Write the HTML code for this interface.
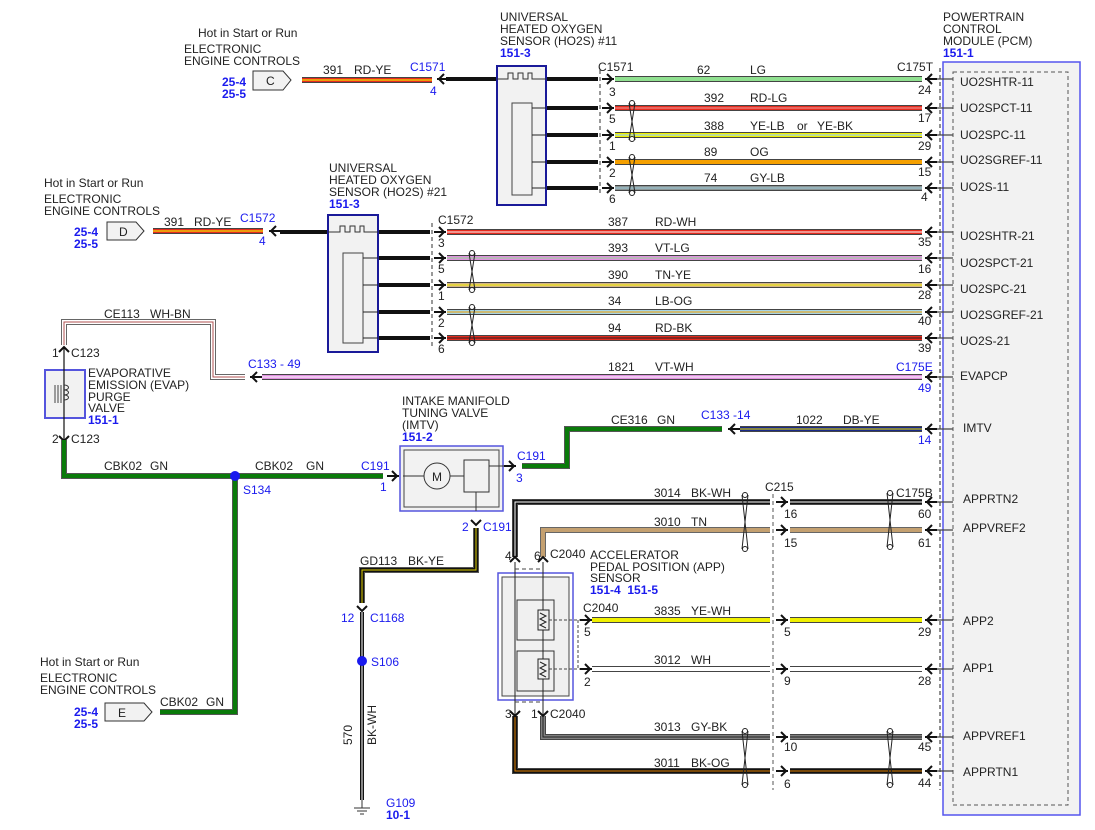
<!DOCTYPE html>
<html><head><meta charset="utf-8"><style>
html,body{margin:0;padding:0;background:#fff}
svg{display:block}
text{font-family:"Liberation Sans",sans-serif;font-size:12px;fill:#222}
.b{fill:#1a1aee}
.bb{fill:#1a1aee;font-weight:bold}
.o{stroke:#444;stroke-width:6;fill:none}
.k{stroke:#111;stroke-width:4;fill:none}
</style></head><body>
<svg width="1095" height="830" viewBox="0 0 1095 830" xmlns="http://www.w3.org/2000/svg">
<defs>
<g id="ar"><path d="M-5,-5 L0,0 L-5,5" stroke="#111" stroke-width="2" fill="none"/><line x1="-10" y1="0" x2="2" y2="0" stroke="#111" stroke-width="2"/></g>
<g id="al"><path d="M5,-5 L0,0 L5,5" stroke="#111" stroke-width="2" fill="none"/><line x1="-2" y1="0" x2="10" y2="0" stroke="#111" stroke-width="2"/></g>
</defs>

<!-- PCM -->
<rect x="943" y="62" width="137" height="753" fill="#f2f2f2" stroke="#5555ee" stroke-width="1.5"/>
<rect x="953" y="72" width="115" height="733" fill="none" stroke="#555" stroke-dasharray="4,3"/>
<line x1="940" y1="68" x2="940" y2="790" stroke="#222" stroke-dasharray="4,3"/>
<g stroke="#444" stroke-width="1.2">
<path d="M930,79H953M930,108H953M930,135H953M930,162H953M930,188H953M930,232H953M930,258H953M930,285H953M930,312H953M930,338H953M930,377H953M930,429H953M930,502H953M930,530H953M930,620H953M930,669H953M930,737H953M930,771H953"/>
</g>
<text x="943" y="21">POWERTRAIN</text><text x="943" y="33">CONTROL</text><text x="943" y="45">MODULE (PCM)</text><text x="943" y="57" class="bb">151-1</text>
<g>
<text x="960" y="86">UO2SHTR-11</text><text x="960" y="112">UO2SPCT-11</text><text x="960" y="139">UO2SPC-11</text><text x="960" y="164">UO2SGREF-11</text><text x="960" y="191">UO2S-11</text>
<text x="960" y="240">UO2SHTR-21</text><text x="960" y="267">UO2SPCT-21</text><text x="960" y="293">UO2SPC-21</text><text x="960" y="319">UO2SGREF-21</text><text x="960" y="345">UO2S-21</text>
<text x="960" y="380">EVAPCP</text><text x="963" y="432">IMTV</text><text x="963" y="503">APPRTN2</text><text x="963" y="532">APPVREF2</text>
<text x="963" y="625">APP2</text><text x="963" y="672">APP1</text><text x="963" y="740">APPVREF1</text><text x="963" y="776">APPRTN1</text>
</g>

<!-- Sensor 11 wires -->
<g>
<path class="o" d="M615,79H922"/><path d="M615,79H922" stroke="#90e090" stroke-width="4"/>
<path class="o" d="M615,108H922"/><path d="M615,108H922" stroke="#e52b1e" stroke-width="4"/><path d="M615,108H922" stroke="#f0a0a0" stroke-width="1"/>
<path class="o" d="M615,135H922"/><path d="M615,135H922" stroke="#f0f000" stroke-width="4"/><path d="M615,135H922" stroke="#9ad0f0" stroke-width="1.2"/>
<path class="o" d="M615,162H922"/><path d="M615,162H922" stroke="#f5a000" stroke-width="4"/>
<path class="o" d="M615,188H922"/><path d="M615,188H922" stroke="#8a9494" stroke-width="4"/><path d="M615,188H922" stroke="#a0d0e0" stroke-width="1"/>
</g>
<g class="k"><path d="M446,79H497"/><path d="M546,79H598"/><path d="M546,108H598"/><path d="M546,135H598"/><path d="M546,162H598"/><path d="M546,188H598"/></g>
<line x1="600" y1="70" x2="600" y2="196" stroke="#333" stroke-dasharray="4,3"/>
<g><use href="#ar" x="612" y="79"/><use href="#ar" x="612" y="108"/><use href="#ar" x="612" y="135"/><use href="#ar" x="612" y="162"/><use href="#ar" x="612" y="188"/></g>
<g class="b"><text x="598" y="71">C1571</text><text x="609" y="96">3</text><text x="609" y="123">5</text><text x="609" y="150">1</text><text x="609" y="177">2</text><text x="609" y="203">6</text></g>
<g><text x="697" y="74">62</text><text x="750" y="74">LG</text><text x="704" y="102">392</text><text x="750" y="102">RD-LG</text>
<text x="704" y="130">388</text><text x="750" y="130">YE-LB</text><text x="797" y="130">or</text><text x="817" y="130">YE-BK</text>
<text x="704" y="156">89</text><text x="750" y="156">OG</text><text x="704" y="182">74</text><text x="750" y="182">GY-LB</text></g>
<rect x="497" y="66" width="49" height="139" fill="#f2f2f2" stroke="#1a1a99" stroke-width="2"/>
<rect x="512" y="103" width="20" height="92" fill="#f2f2f2" stroke="#444"/>
<path d="M497,79H508V73H513V79H518V73H523V79H528V73H532V79H546" stroke="#333" fill="none"/>
<g stroke="#222" fill="none"><path d="M532,108H546M532,135H546M532,162H546M532,188H546"/></g>
<text x="500" y="21">UNIVERSAL</text><text x="500" y="33">HEATED OXYGEN</text><text x="500" y="45">SENSOR (HO2S) #11</text><text x="500" y="57" class="bb">151-3</text>
<g stroke="#222" fill="none"><path d="M629,103L635,140M635,103L629,140"/><circle cx="632" cy="103" r="2.5" fill="#fff"/><circle cx="632" cy="139" r="2.5" fill="#fff"/>
<path d="M629,157L635,193M635,157L629,193"/><circle cx="632" cy="157" r="2.5" fill="#fff"/><circle cx="632" cy="193" r="2.5" fill="#fff"/></g>

<!-- C connector top -->
<path d="M253,71H283L291,80L283,90H253Z" fill="#f2f2f2" stroke="#333"/><text x="266" y="85">C</text>
<path class="o" d="M302,80H432"/><path d="M302,80H432" stroke="#e52b1e" stroke-width="4"/><path d="M302,80H432" stroke="#f0e000" stroke-width="1.2"/>
<use href="#al" x="439" y="79"/>
<text x="323" y="74">391</text><text x="354" y="74">RD-YE</text><text x="410" y="71" class="b">C1571</text><text x="430" y="95" class="b">4</text>
<text x="198" y="37">Hot in Start or Run</text><text x="184" y="53">ELECTRONIC</text><text x="184" y="65">ENGINE CONTROLS</text>
<text x="222" y="86" class="bb">25-4</text><text x="222" y="98" class="bb">25-5</text>

<!-- Sensor 21 -->
<g>
<path class="o" d="M447,232H922"/><path d="M447,232H922" stroke="#e52b1e" stroke-width="4"/><path d="M447,232H922" stroke="#fff" stroke-width="1"/>
<path class="o" d="M447,258H922"/><path d="M447,258H922" stroke="#e090e0" stroke-width="4"/><path d="M447,258H922" stroke="#90e090" stroke-width="1"/>
<path class="o" d="M447,285H922"/><path d="M447,285H922" stroke="#d4b483" stroke-width="4"/><path d="M447,285H922" stroke="#f0f000" stroke-width="1"/>
<path class="o" d="M447,312H922"/><path d="M447,312H922" stroke="#a8d4e4" stroke-width="4"/><path d="M447,312H922" stroke="#f5a000" stroke-width="1"/>
<path class="o" d="M447,338H922"/><path d="M447,338H922" stroke="#e52b1e" stroke-width="4"/><path d="M447,338H922" stroke="#222" stroke-width="1"/>
</g>
<g class="k"><path d="M280,232H328"/><path d="M378,232H430"/><path d="M378,258H430"/><path d="M378,285H430"/><path d="M378,312H430"/><path d="M378,338H430"/></g>
<line x1="432" y1="223" x2="432" y2="346" stroke="#333" stroke-dasharray="4,3"/>
<g><use href="#ar" x="444" y="232"/><use href="#ar" x="444" y="258"/><use href="#ar" x="444" y="285"/><use href="#ar" x="444" y="312"/><use href="#ar" x="444" y="338"/></g>
<g class="b"><text x="438" y="224">C1572</text><text x="438" y="247">3</text><text x="438" y="273">5</text><text x="438" y="300">1</text><text x="438" y="327">2</text><text x="438" y="353">6</text></g>
<g><text x="608" y="226">387</text><text x="655" y="226">RD-WH</text><text x="608" y="252">393</text><text x="655" y="252">VT-LG</text>
<text x="608" y="279">390</text><text x="655" y="279">TN-YE</text><text x="608" y="305">34</text><text x="655" y="305">LB-OG</text><text x="608" y="332">94</text><text x="655" y="332">RD-BK</text></g>
<rect x="328" y="215" width="50" height="137" fill="#f2f2f2" stroke="#1a1a99" stroke-width="2"/>
<rect x="343" y="253" width="20" height="90" fill="#f2f2f2" stroke="#444"/>
<path d="M328,232H340V226H345V232H350V226H355V232H360V226H364V232H378" stroke="#333" fill="none"/>
<path d="M363,258H378M363,285H378M363,312H378M363,338H378" stroke="#222"/>
<text x="329" y="172">UNIVERSAL</text><text x="329" y="184">HEATED OXYGEN</text><text x="329" y="196">SENSOR (HO2S) #21</text><text x="329" y="208" class="bb">151-3</text>
<g stroke="#222" fill="none"><path d="M469,253L475,290M475,253L469,290"/><circle cx="472" cy="253" r="2.5" fill="#fff"/><circle cx="472" cy="290" r="2.5" fill="#fff"/>
<path d="M469,307L475,343M475,307L469,343"/><circle cx="472" cy="307" r="2.5" fill="#fff"/><circle cx="472" cy="343" r="2.5" fill="#fff"/></g>

<!-- D connector -->
<path d="M107,222H136L144,231L136,240H107Z" fill="#f2f2f2" stroke="#333"/><text x="119" y="236">D</text>
<path class="o" d="M153,231H263"/><path d="M153,231H263" stroke="#e52b1e" stroke-width="4"/><path d="M153,231H263" stroke="#f0e000" stroke-width="1.2"/>
<use href="#al" x="271" y="231"/>
<text x="164" y="226">391</text><text x="194" y="226">RD-YE</text><text x="240" y="222" class="b">C1572</text><text x="259" y="245" class="b">4</text>
<text x="44" y="187">Hot in Start or Run</text><text x="44" y="203">ELECTRONIC</text><text x="44" y="215">ENGINE CONTROLS</text>
<text x="74" y="236" class="bb">25-4</text><text x="74" y="248" class="bb">25-5</text>

<!-- EVAP -->
<path d="M64,345V322H213V377H245" stroke="#666" stroke-width="6" fill="none"/>
<path d="M64,345V322H213V377H245" stroke="#fff" stroke-width="4" fill="none"/>
<path d="M64,345V322H213V377H245" stroke="#b05050" stroke-width="1" fill="none"/>
<path class="o" d="M262,377H922"/><path d="M262,377H922" stroke="#e090e0" stroke-width="4"/><path d="M262,377H922" stroke="#fff" stroke-width="1"/>
<use href="#al" x="252" y="377"/>
<text x="104" y="318">CE113</text><text x="150" y="318">WH-BN</text><text x="248" y="368" class="b">C133 - 49</text>
<text x="608" y="371">1821</text><text x="655" y="371">VT-WH</text><text x="896" y="371" class="b">C175E</text><text x="918" y="392" class="b">49</text>
<rect x="45" y="370" width="40" height="48" fill="#f2f2f2" stroke="#5555dd" stroke-width="2"/>
<line x1="64" y1="348" x2="64" y2="440" stroke="#111" stroke-width="1.2"/>
<path d="M59,352L64,347L69,352M59,436L64,441L69,436" stroke="#111" stroke-width="2" fill="none"/>
<path d="M55,385V403M58,385V403M61,385V403" stroke="#444"/>
<path d="M64,385c6,0 6,5 0,5c6,0 6,5 0,5c6,0 6,5 0,5" stroke="#333" fill="none"/>
<g class="b"><text x="52" y="357">1</text><text x="71" y="357">C123</text><text x="52" y="443">2</text><text x="71" y="443">C123</text></g>
<text x="88" y="377">EVAPORATIVE</text><text x="88" y="389">EMISSION (EVAP)</text><text x="88" y="401">PURGE</text><text x="88" y="412">VALVE</text><text x="88" y="424" class="bb">151-1</text>

<!-- Green CBK02 -->
<path d="M64,440V476H383" stroke="#555" stroke-width="6" fill="none"/><path d="M64,440V476H383" stroke="#0a7a0a" stroke-width="4" fill="none"/>
<path d="M235,476V712H160" stroke="#555" stroke-width="6" fill="none"/><path d="M235,476V712H160" stroke="#0a7a0a" stroke-width="4" fill="none"/>
<circle cx="235" cy="476" r="5" fill="#1a1aee"/>
<text x="104" y="470">CBK02</text><text x="150" y="470">GN</text><text x="255" y="470">CBK02</text><text x="306" y="470">GN</text>
<text x="243" y="494" class="b">S134</text><text x="361" y="470" class="b">C191</text><text x="380" y="491" class="b">1</text>
<use href="#ar" x="397" y="476"/>
<path d="M105,703H144L152,712L144,721H105Z" fill="#f2f2f2" stroke="#333"/><text x="118" y="717">E</text>
<text x="160" y="706">CBK02</text><text x="206" y="706">GN</text>
<text x="40" y="666">Hot in Start or Run</text><text x="40" y="682">ELECTRONIC</text><text x="40" y="694">ENGINE CONTROLS</text>
<text x="74" y="716" class="bb">25-4</text><text x="74" y="728" class="bb">25-5</text>

<!-- IMTV -->
<rect x="400" y="446" width="103" height="65" fill="#f2f2f2" stroke="#5555dd" stroke-width="1.5"/>
<rect x="404" y="450" width="95" height="57" fill="none" stroke="#444"/>
<circle cx="437" cy="476" r="13" fill="#f2f2f2" stroke="#333"/><text x="432" y="481">M</text>
<rect x="464" y="460" width="25" height="32" fill="#f2f2f2" stroke="#333"/>
<path d="M403,476H424M450,476H464M489,466H510M476,492V511" stroke="#333" fill="none"/>
<text x="402" y="405">INTAKE MANIFOLD</text><text x="402" y="417">TUNING VALVE</text><text x="402" y="429">(IMTV)</text><text x="402" y="441" class="bb">151-2</text>
<use href="#ar" x="514" y="466"/>
<text x="517" y="460" class="b">C191</text><text x="516" y="482" class="b">3</text>
<path d="M522,466H567V429H722" stroke="#555" stroke-width="6" fill="none"/><path d="M522,466H567V429H722" stroke="#0a7a0a" stroke-width="4" fill="none"/>
<use href="#al" x="730" y="429"/>
<path class="o" d="M740,429H922"/><path d="M740,429H922" stroke="#1a2a8a" stroke-width="4"/><path d="M740,429H922" stroke="#f0e000" stroke-width="1"/>
<text x="611" y="424">CE316</text><text x="657" y="424">GN</text><text x="701" y="419" class="b">C133 -14</text><text x="796" y="424">1022</text><text x="843" y="424">DB-YE</text><text x="918" y="444" class="b">14</text>
<path d="M471,520L476,525L481,520" stroke="#111" stroke-width="2" fill="none"/>
<text x="462" y="531" class="b">2</text><text x="483" y="531" class="b">C191</text>
<path d="M476,528V570H362V603" stroke="#555" stroke-width="6" fill="none"/><path d="M476,528V570H362V603" stroke="#111" stroke-width="4" fill="none"/><path d="M476,528V570H362V603" stroke="#e0d000" stroke-width="1" fill="none"/>
<text x="360" y="565">GD113</text><text x="408" y="565">BK-YE</text>
<path d="M357,606L362,611L367,606" stroke="#111" stroke-width="2" fill="none"/>
<text x="341" y="622" class="b">12</text><text x="370" y="622" class="b">C1168</text>
<path d="M362,612V800" stroke="#111" stroke-width="4"/><path d="M362,612V800" stroke="#fff" stroke-width="1"/>
<circle cx="362" cy="661" r="5" fill="#1a1aee"/><text x="371" y="666" class="b">S106</text>
<text x="352" y="745" transform="rotate(-90 352 745)">570</text><text x="376" y="745" transform="rotate(-90 376 745)">BK-WH</text>
<path d="M362,800V808M354,808H370M357,811H367M360,814H364" stroke="#333"/>
<text x="386" y="807" class="b">G109</text><text x="386" y="819" class="bb">10-1</text>

<!-- APP -->
<path d="M515,557V502H770" stroke="#444" stroke-width="6" fill="none"/><path d="M515,557V502H770" stroke="#111" stroke-width="4" fill="none"/><path d="M515,557V502H770" stroke="#fff" stroke-width="1" fill="none"/>
<path d="M543,557V530H770" stroke="#666" stroke-width="6" fill="none"/><path d="M543,557V530H770" stroke="#c4a070" stroke-width="4" fill="none"/>
<path d="M543,716V737H770" stroke="#444" stroke-width="6" fill="none"/><path d="M543,716V737H770" stroke="#808080" stroke-width="4" fill="none"/><path d="M543,716V737H770" stroke="#222" stroke-width="1" fill="none"/>
<path d="M515,716V771H770" stroke="#444" stroke-width="6" fill="none"/><path d="M515,716V771H770" stroke="#111" stroke-width="4" fill="none"/><path d="M515,716V771H770" stroke="#e08000" stroke-width="1" fill="none"/>
<path class="o" d="M592,620H770"/><path d="M592,620H770" stroke="#f0f000" stroke-width="4"/>
<path class="o" d="M592,669H770"/><path d="M592,669H770" stroke="#fff" stroke-width="4"/>
<g>
<path class="o" d="M790,502H922"/><path d="M790,502H922" stroke="#111" stroke-width="4"/><path d="M790,502H922" stroke="#fff" stroke-width="1"/>
<path d="M790,530H922" stroke="#666" stroke-width="6"/><path d="M790,530H922" stroke="#c4a070" stroke-width="4"/>
<path class="o" d="M790,620H922"/><path d="M790,620H922" stroke="#f0f000" stroke-width="4"/>
<path class="o" d="M790,669H922"/><path d="M790,669H922" stroke="#fff" stroke-width="4"/>
<path class="o" d="M790,737H922"/><path d="M790,737H922" stroke="#808080" stroke-width="4"/><path d="M790,737H922" stroke="#222" stroke-width="1"/>
<path class="o" d="M790,771H922"/><path d="M790,771H922" stroke="#111" stroke-width="4"/><path d="M790,771H922" stroke="#e08000" stroke-width="1"/>
</g>
<line x1="773" y1="494" x2="773" y2="790" stroke="#555" stroke-dasharray="4,3"/>
<g><use href="#ar" x="786" y="502"/><use href="#ar" x="786" y="530"/><use href="#ar" x="786" y="620"/><use href="#ar" x="786" y="669"/><use href="#ar" x="786" y="737"/><use href="#ar" x="786" y="771"/></g>
<g class="b"><text x="765" y="491">C215</text><text x="784" y="518">16</text><text x="784" y="547">15</text><text x="784" y="636">5</text><text x="784" y="685">9</text><text x="784" y="751">10</text><text x="784" y="788">6</text></g>
<g><text x="654" y="497">3014</text><text x="691" y="497">BK-WH</text><text x="654" y="526">3010</text><text x="691" y="526">TN</text>
<text x="654" y="615">3835</text><text x="691" y="615">YE-WH</text><text x="654" y="664">3012</text><text x="691" y="664">WH</text>
<text x="654" y="731">3013</text><text x="691" y="731">GY-BK</text><text x="654" y="767">3011</text><text x="691" y="767">BK-OG</text></g>
<g stroke="#222" fill="none">
<path d="M742,495L748,549M748,495L742,549"/><circle cx="745" cy="495" r="2.5" fill="#fff"/><circle cx="745" cy="549" r="2.5" fill="#fff"/>
<path d="M742,731L748,785M748,731L742,785"/><circle cx="745" cy="731" r="2.5" fill="#fff"/><circle cx="745" cy="785" r="2.5" fill="#fff"/>
<path d="M887,493L893,547M893,493L887,547"/><circle cx="890" cy="493" r="2.5" fill="#fff"/><circle cx="890" cy="547" r="2.5" fill="#fff"/>
<path d="M887,731L893,785M893,731L887,785"/><circle cx="890" cy="731" r="2.5" fill="#fff"/><circle cx="890" cy="785" r="2.5" fill="#fff"/>
</g>
<rect x="498" y="573" width="75" height="127" fill="#fff" stroke="#5555dd" stroke-width="1.5"/>
<rect x="502" y="577" width="67" height="119" fill="#f0f0f0" stroke="#444"/>
<rect x="517" y="600" width="37" height="40" fill="#f0f0f0" stroke="#333"/>
<rect x="517" y="651" width="37" height="40" fill="#f0f0f0" stroke="#333"/>
<path d="M515,562V716M543,562V716" stroke="#222"/>
<path d="M515,569h28M515,702h28" stroke="#444" stroke-dasharray="4,3"/>
<rect x="538" y="610" width="11" height="20" fill="#eee" stroke="#222"/><path d="M540,613l6,3l-6,3l6,3l-6,3l6,3" stroke="#222" fill="none"/>
<rect x="538" y="659" width="11" height="20" fill="#eee" stroke="#222"/><path d="M540,662l6,3l-6,3l6,3l-6,3l6,3" stroke="#222" fill="none"/>
<path d="M549,620H580M549,669H580M578,620V669" stroke="#444" stroke-dasharray="3,2" fill="none"/>
<use href="#ar" x="590" y="620"/><use href="#ar" x="590" y="669"/>
<path d="M510,562L515,557L520,562M538,562L543,557L548,562M510,711L515,716L520,711M538,711L543,716L548,711" stroke="#111" stroke-width="2" fill="none"/>
<g class="b"><text x="505" y="560">4</text><text x="534" y="560">6</text><text x="550" y="558">C2040</text><text x="583" y="612">C2040</text><text x="584" y="636">5</text><text x="584" y="686">2</text>
<text x="505" y="718">3</text><text x="531" y="718">1</text><text x="550" y="718">C2040</text></g>
<text x="590" y="559">ACCELERATOR</text><text x="590" y="571">PEDAL POSITION (APP)</text><text x="590" y="582">SENSOR</text><text x="590" y="594" class="bb">151-4&#160;&#160;151-5</text>

<!-- PCM side arrows and pins -->
<g>
<use href="#al" x="927" y="79"/><use href="#al" x="927" y="108"/><use href="#al" x="927" y="135"/><use href="#al" x="927" y="162"/><use href="#al" x="927" y="188"/>
<use href="#al" x="927" y="232"/><use href="#al" x="927" y="258"/><use href="#al" x="927" y="285"/><use href="#al" x="927" y="312"/><use href="#al" x="927" y="338"/>
<use href="#al" x="927" y="377"/><use href="#al" x="927" y="429"/><use href="#al" x="927" y="502"/><use href="#al" x="927" y="530"/>
<use href="#al" x="927" y="620"/><use href="#al" x="927" y="669"/><use href="#al" x="927" y="737"/><use href="#al" x="927" y="771"/>
</g>
<g class="b"><text x="897" y="71">C175T</text><text x="918" y="94">24</text><text x="918" y="122">17</text><text x="918" y="150">29</text><text x="918" y="176">15</text><text x="921" y="201">4</text>
<text x="918" y="246">35</text><text x="918" y="273">16</text><text x="918" y="299">28</text><text x="918" y="325">40</text><text x="918" y="352">39</text>
<text x="896" y="497">C175B</text><text x="918" y="518">60</text><text x="918" y="547">61</text><text x="918" y="636">29</text><text x="918" y="685">28</text><text x="918" y="751">45</text><text x="918" y="787">44</text></g>
</svg>
</body></html>
